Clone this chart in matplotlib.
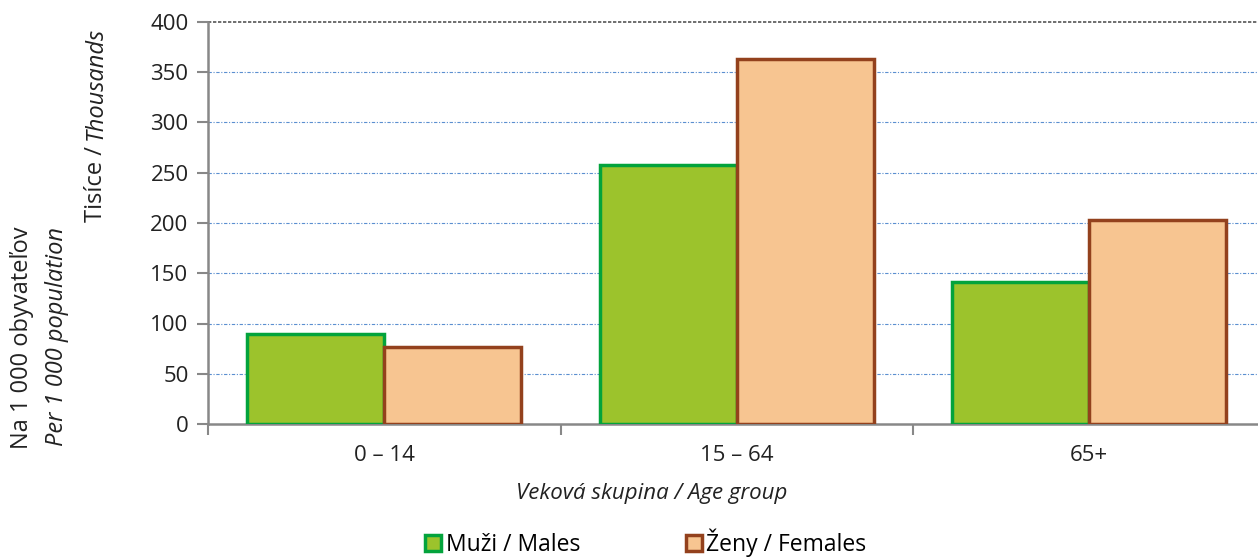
import numpy as np
import matplotlib.pyplot as plt

# Data
categories = ['0 – 14', '15 – 64', '65+']
males = [90, 258, 141]
females = [77, 363, 203]
yticks = [0, 50, 100, 150, 200, 250, 300, 350, 400]

plt.rcParams['font.family'] = ['Open Sans', 'DejaVu Sans']
FS = 16

W, H = 1258, 559
fig = plt.figure(figsize=(W / 100, H / 100), dpi=100)

# axes box in pixels: left 208, right ~1265 (clipped by figure), bottom 424, top 22
ax = fig.add_axes([208 / W, 1 - 424 / H, (1265.5 - 208) / W, (424 - 22) / H])

x = np.arange(len(categories))
bw = 0.388
ax.bar(x - bw / 2, males, bw, color='#9CC32C', edgecolor='#03A33C', linewidth=2.5,
       label='Muži / Males', zorder=3)
ax.bar(x + bw / 2, females, bw, color='#F7C591', edgecolor='#93411D', linewidth=2.5,
       label='Ženy / Females', zorder=3)

ax.set_xlim(-0.5, len(categories) - 0.5)
ax.set_ylim(0, 400)
ax.set_yticks(yticks)
ax.set_yticklabels([str(v) for v in yticks])
for v in yticks[1:-1]:
    ax.axhline(v, color='#5B8FD0', linewidth=0.8, linestyle=(0, (3, 1.5, 1, 1.5)), zorder=1)
ax.axhline(400, color='#555555', linewidth=1.2, linestyle=(0, (2, 1)), zorder=1, clip_on=False)

ax.set_xticks(x)
ax.set_xticklabels(categories)
ax.set_xticks(np.arange(-0.5, len(categories), 1), minor=True)
ax.tick_params(axis='x', which='major', length=0, labelsize=FS, pad=15, colors='#222222')
ax.tick_params(axis='x', which='minor', length=8, width=1.5, color='#888888')
ax.tick_params(axis='y', length=8, width=1.5, color='#888888', labelsize=FS,
               labelcolor='#222222', pad=6)

for s in ['top', 'right']:
    ax.spines[s].set_visible(False)
for s in ['left', 'bottom']:
    ax.spines[s].set_color('#888888')
    ax.spines[s].set_linewidth(1.8)

fig.text(652 / W, 1 - 494 / H, 'Veková skupina / Age group', style='italic',
         fontsize=FS, ha='center', va='center', color='#222222')

# y labels with mixed styles
renderer = fig.canvas.get_renderer()


def stacked_label(xpix, ybottom, parts):
    ypos = ybottom
    for txt, st in parts:
        t = fig.text(xpix / W, 1 - ypos / H, txt, rotation=90, style=st, fontsize=FS + 1,
                     ha='center', va='bottom', color='#222222')
        bb = t.get_window_extent(renderer)
        ypos -= bb.height


stacked_label(96, 222, [('Tisíce / ', 'normal'), ('Thousands', 'italic')])
fig.text(22 / W, 1 - 338 / H, 'Na 1 000 obyvateľov', rotation=90, fontsize=FS + 1,
         ha='center', va='center', color='#222222')
fig.text(57 / W, 1 - 336 / H, 'Per 1 000 population', rotation=90, style='italic',
         fontsize=FS + 1, ha='center', va='center', color='#222222')

fig.legend(loc='center', bbox_to_anchor=(646 / W, 1 - 543 / H), ncol=2, frameon=False,
           fontsize=FS + 0.5, handlelength=0.7, handleheight=0.7, handletextpad=0.2,
           columnspacing=4.6, borderpad=0)

fig.savefig('out.png', dpi=100)
